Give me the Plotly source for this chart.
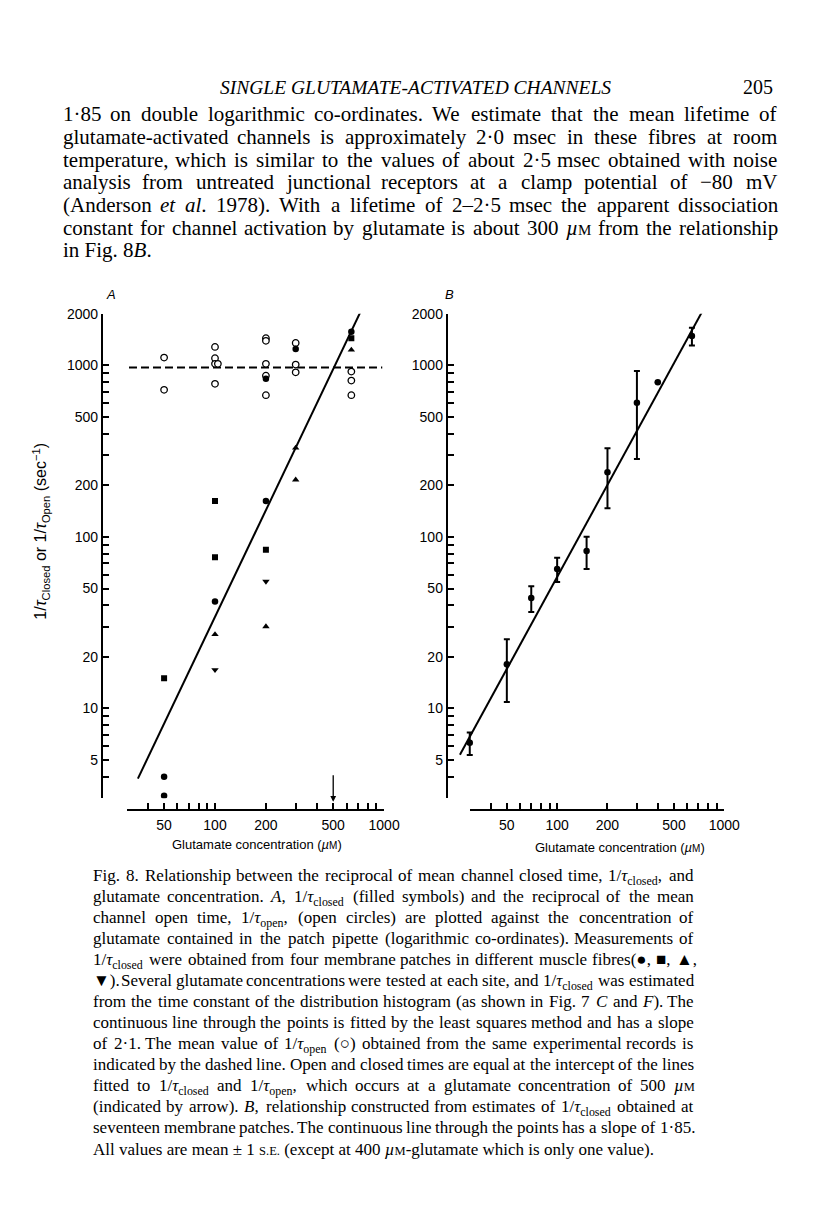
import math
import re
import plotly.graph_objects as go

W, H = 816, 1212
L = math.log10

# ---------------- data: panel A ----------------
open_x = [50, 50, 100, 100, 100, 104, 100, 200, 200, 200, 200, 200, 300, 300, 300, 640, 640, 640]
open_y = [1110, 720, 1280, 1100, 1020, 1020, 780, 1440, 1390, 1020, 870, 670, 1350, 1010, 910, 920, 815, 670]

circ_x = [50, 50, 100, 200, 200, 300, 640]
circ_y = [4.0, 3.1, 42, 162, 835, 1245, 1570]
sq_x = [50, 100, 100, 200, 640]
sq_y = [15, 162, 76, 84, 1440]
up_x = [100, 200, 300, 300, 640]
up_y = [27, 30, 330, 215, 1230]
dn_x = [100, 200]
dn_y = [16.8, 55]

fitA_x = [35, 725]
fitA_y = [3.9, 2050]
meanopen_x = [31, 975]
meanopen_y = [970, 970]
arrow_conc = 500

# ---------------- data: panel B ----------------
B_x = [30, 50, 70, 100, 150, 200, 300, 400, 640]
B_y = [6.3, 18.1, 44, 65, 82.6, 238, 606, 797, 1480]
B_err = [0.95, 7.2, 7.5, 10.5, 17.6, 91, 322, None, 175]
fitB_x = [26.2, 735]
fitB_y = [5.37, 2046]

# ---------------- ticks ----------------
y_major = [5, 10, 20, 50, 100, 200, 500, 1000, 2000]
y_minor = [3, 4, 6, 7, 8, 9, 30, 40, 60, 70, 80, 90, 300, 400, 600, 700, 800, 900]
x_major = [50, 100, 200, 500, 1000]
x_minor = [30, 40, 60, 70, 80, 90, 300, 400, 600, 700, 800, 900]

# ---------------- geometry (pixels) ----------------
def fx(px):
    return px / W


def fy(py):
    return 1 - py / H


Y_TOP, Y_BOT = 307.7, 795.4          # pixel rows of 2000 and 3
X_AXIS_ROW = 807

A_YAX, A_RIGHT, A_X100, A_DEC = 105, 405, 219.3, 172.5
B_YAX, B_RIGHT, B_X100, B_DEC = 456.7, 770, 568.3, 170.5


def xrange_for(left_px, right_px, x100, dec):
    return [2 + (left_px - x100) / dec, 2 + (right_px - x100) / dec]


def tick_dom(x100, dec):
    return [fx(x100 + (L(30) - 2) * dec), fx(x100 + (L(1000) - 2) * dec)]


tickfont = dict(family="Liberation Sans, Arial, sans-serif", size=14, color="black")

fig = go.Figure()

# ---- panel A traces ----
fig.add_trace(go.Scatter(x=meanopen_x, y=meanopen_y, mode="lines",
                         line=dict(color="black", width=2, dash="8px,4px"),
                         xaxis="x", yaxis="y", showlegend=False, hoverinfo="skip"))
fig.add_trace(go.Scatter(x=fitA_x, y=fitA_y, mode="lines",
                         line=dict(color="black", width=2),
                         xaxis="x", yaxis="y", showlegend=False, hoverinfo="skip"))
fig.add_trace(go.Scatter(x=open_x, y=open_y, mode="markers",
                         marker=dict(symbol="circle", size=6.5, color="white",
                                     line=dict(color="black", width=1.3)),
                         xaxis="x", yaxis="y", showlegend=False))
fig.add_trace(go.Scatter(x=circ_x, y=circ_y, mode="markers",
                         marker=dict(symbol="circle", size=6.5, color="black"),
                         xaxis="x", yaxis="y", showlegend=False))
fig.add_trace(go.Scatter(x=sq_x, y=sq_y, mode="markers",
                         marker=dict(symbol="square", size=6, color="black"),
                         xaxis="x", yaxis="y", showlegend=False))
fig.add_trace(go.Scatter(x=up_x, y=up_y, mode="markers",
                         marker=dict(symbol="triangle-up", size=6.5, color="black"),
                         xaxis="x", yaxis="y", showlegend=False))
fig.add_trace(go.Scatter(x=dn_x, y=dn_y, mode="markers",
                         marker=dict(symbol="triangle-down", size=6.5, color="black"),
                         xaxis="x", yaxis="y", showlegend=False))
fig.add_trace(go.Scatter(x=[], y=[], xaxis="x2", yaxis="y", showlegend=False))

# ---- panel B traces ----
fig.add_trace(go.Scatter(x=fitB_x, y=fitB_y, mode="lines",
                         line=dict(color="black", width=2),
                         xaxis="x3", yaxis="y2", showlegend=False, hoverinfo="skip"))
fig.add_trace(go.Scatter(x=B_x, y=B_y, mode="markers",
                         marker=dict(symbol="circle", size=6.5, color="black"),
                         error_y=dict(type="data", array=B_err, symmetric=True,
                                      color="black", thickness=2, width=3),
                         xaxis="x3", yaxis="y2", showlegend=False))
fig.add_trace(go.Scatter(x=[], y=[], xaxis="x4", yaxis="y2", showlegend=False))

minor_style = dict(ticks="inside", ticklen=6, tickwidth=1.5, tickcolor="black", showgrid=False)
yax_common = dict(type="log", range=[L(3), L(2000)], domain=[fy(Y_BOT), fy(Y_TOP)],
                  showline=True, linewidth=2, linecolor="black", ticks="inside",
                  ticklen=6, tickwidth=1.5, tickcolor="black",
                  tickmode="array", tickvals=y_major, ticktext=[str(v) for v in y_major],
                  minor=dict(tickmode="array", tickvals=y_minor, **minor_style),
                  tickfont=tickfont, showgrid=False, zeroline=False)
xt_common = dict(type="log", range=[L(30), 3], anchor="free", position=fy(X_AXIS_ROW),
                 showline=True, linewidth=2, linecolor="black", ticks="inside",
                 ticklen=6, tickwidth=1.5, tickcolor="black",
                 tickmode="array", tickvals=x_major, ticktext=[str(v) for v in x_major],
                 minor=dict(tickmode="array", tickvals=x_minor, **minor_style),
                 tickfont=tickfont, showgrid=False, zeroline=False, ticklabelstandoff=3)

fig.update_layout(
    width=W, height=H, autosize=False,
    margin=dict(l=0, r=0, t=0, b=0),
    paper_bgcolor="white", plot_bgcolor="rgba(0,0,0,0)",
    xaxis=dict(type="log", domain=[fx(A_YAX), fx(A_RIGHT)],
               range=xrange_for(A_YAX, A_RIGHT, A_X100, A_DEC), visible=False),
    yaxis=dict(anchor="x", **yax_common),
    xaxis2=dict(domain=tick_dom(A_X100, A_DEC), **xt_common),
    xaxis3=dict(type="log", domain=[fx(B_YAX), fx(B_RIGHT)],
                range=xrange_for(B_YAX, B_RIGHT, B_X100, B_DEC), visible=False),
    yaxis2=dict(anchor="x3", **yax_common),
    xaxis4=dict(domain=tick_dom(B_X100, B_DEC), **xt_common),
)

ann = []
serif = "Liberation Serif, Times New Roman, serif"
sans = "Liberation Sans, Arial, sans-serif"


def txt(x, y, s, size, family=serif, xanchor="left", angle=0, yanchor="middle"):
    ann.append(dict(x=fx(x), y=fy(y), xref="paper", yref="paper", text=s, showarrow=False,
                    xanchor=xanchor, yanchor=yanchor, textangle=angle,
                    font=dict(family=family, size=size, color="black")))


# --- approximate Times (Liberation Serif) advance widths, per 1000 em ---
TW = {}
for chs, ws in [
    ("abcdefghijklmnopqrstuvwxyz",
     [444, 500, 444, 500, 444, 333, 500, 500, 278, 278, 500, 278, 778, 500, 500, 500, 500, 333, 389, 278, 500, 500, 722, 500, 500, 444]),
    ("ABCDEFGHIJKLMNOPQRSTUVWXYZ",
     [722, 667, 667, 722, 611, 556, 722, 722, 333, 389, 722, 611, 889, 722, 722, 556, 722, 667, 556, 611, 722, 722, 944, 722, 722, 611]),
    ("0123456789", [500] * 10),
    (" .,:;-()/'·–−µτ±●■▲▼○",
     [250, 250, 250, 278, 278, 333, 333, 333, 278, 333, 250, 500, 564, 500, 440, 564, 604, 604, 770, 770, 604]),
]:
    for c, w in zip(chs, ws):
        TW[c] = w


def text_width(token, size):
    w, stack, i = 0.0, [1.0], 0
    while i < len(token):
        if token[i] == "<":
            j = token.index(">", i)
            tag = token[i + 1:j]
            if tag in ("sub", "sup"):
                stack.append(stack[-1] * 0.7)
            elif tag.startswith("span"):
                m = re.search(r"font-size:([\d.]+)px", tag)
                stack.append(float(m.group(1)) / size if m else stack[-1])
            elif tag in ("/sub", "/sup", "/span"):
                stack.pop()
            i = j + 1
        else:
            w += TW.get(token[i], 500) * stack[-1]
            i += 1
    return w / 1000 * size


def paragraph(lines, x0, x1, y0, dy, size):
    for k, line in enumerate(lines):
        ytop = y0 + k * dy - 0.62 * size
        if k == len(lines) - 1:
            txt(x0, ytop, line.replace("<span_style", "<span style"), size, yanchor="top")
            continue
        words = [w.replace("<span_style", "<span style") for w in line.split(" ")]
        widths = [text_width(w, size) for w in words]
        gap = (x1 - x0 - sum(widths)) / (len(words) - 1)
        x = x0
        for wd, ww in zip(words, widths):
            txt(x, ytop, wd, size, yanchor="top")
            x += ww + gap


# arrow at intercept (panel A)
ann.append(dict(x=L(arrow_conc), y=fy(799), xref="x", yref="paper", ax=0, ay=-28,
                axref="pixel", ayref="pixel", text="", showarrow=True,
                arrowhead=2, arrowsize=0.9, arrowwidth=1.3, arrowcolor="black"))

# header
txt(424, 80, "<i>SINGLE GLUTAMATE-ACTIVATED CHANNELS</i>", 19.5, xanchor="center")
txt(790, 80, "205", 20, xanchor="right")

SC_B = "<span_style='font-size:15px'>M</span>"
body = [
    "1·85 on double logarithmic co-ordinates. We estimate that the mean lifetime of",
    "glutamate-activated channels is approximately 2·0 msec in these fibres at room",
    "temperature, which is similar to the values of about 2·5 msec obtained with noise",
    "analysis from untreated junctional receptors at a clamp potential of −80 mV",
    "(Anderson <i>et</i> <i>al</i>. 1978). With a lifetime of 2–2·5 msec the apparent dissociation",
    "constant for channel activation by glutamate is about 300 <i>µ</i>" + SC_B + " from the relationship",
    "in Fig. 8<i>B</i>.",
]
paragraph(body, 62, 790, 106, 22.8, 21)

# panel labels and axis titles
txt(113, 288, "<i>A</i>", 13, family=sans, xanchor="center")
txt(458, 288, "<i>B</i>", 13, family=sans, xanchor="center")
txt(262, 842, "Glutamate concentration (<i>µ</i><span style='font-size:10px'>M</span>)", 13, family=sans, xanchor="center")
txt(632, 845, "Glutamate concentration (<i>µ</i><span style='font-size:10px'>M</span>)", 13, family=sans, xanchor="center")
txt(41, 527, "1/<i>τ</i><sub>Closed</sub> or 1/<i>τ</i><sub>Open</sub> (sec<sup>−1</sup>)", 16,
    family=sans, xanchor="center", angle=-90)

SC = "<span_style='font-size:12.5px'>M</span>"
caption = [
    "Fig. 8. Relationship between the reciprocal of mean channel closed time, 1/<i>τ</i><sub>closed</sub>, and",
    "glutamate concentration. <i>A</i>, 1/<i>τ</i><sub>closed</sub> (filled symbols) and the reciprocal of the mean",
    "channel open time, 1/<i>τ</i><sub>open</sub>, (open circles) are plotted against the concentration of",
    "glutamate contained in the patch pipette (logarithmic co-ordinates). Measurements of",
    "1/<i>τ</i><sub>closed</sub> were obtained from four membrane patches in different muscle fibres(●, ■, ▲,",
    "▼). Several glutamate concentrations were tested at each site, and 1/<i>τ</i><sub>closed</sub> was estimated",
    "from the time constant of the distribution histogram (as shown in Fig. 7 <i>C</i> and <i>F</i>). The",
    "continuous line through the points is fitted by the least squares method and has a slope",
    "of 2·1. The mean value of 1/<i>τ</i><sub>open</sub> (○) obtained from the same experimental records is",
    "indicated by the dashed line. Open and closed times are equal at the intercept of the lines",
    "fitted to 1/<i>τ</i><sub>closed</sub> and 1/<i>τ</i><sub>open</sub>, which occurs at a glutamate concentration of 500 <i>µ</i>" + SC,
    "(indicated by arrow). <i>B</i>, relationship constructed from estimates of 1/<i>τ</i><sub>closed</sub> obtained at",
    "seventeen membrane patches. The continuous line through the points has a slope of 1·85.",
    "All values are mean ± 1 <span_style='font-size:12.5px'>S.E.</span> (except at 400 <i>µ</i>" + SC + "-glutamate which is only one value).",
]
paragraph(caption, 93, 705, 872, 21.2, 17)

fig.update_layout(annotations=ann)
fig.write_html("out.html", config={"displayModeBar": False},
               post_script="document.body.style.margin='0px';")
